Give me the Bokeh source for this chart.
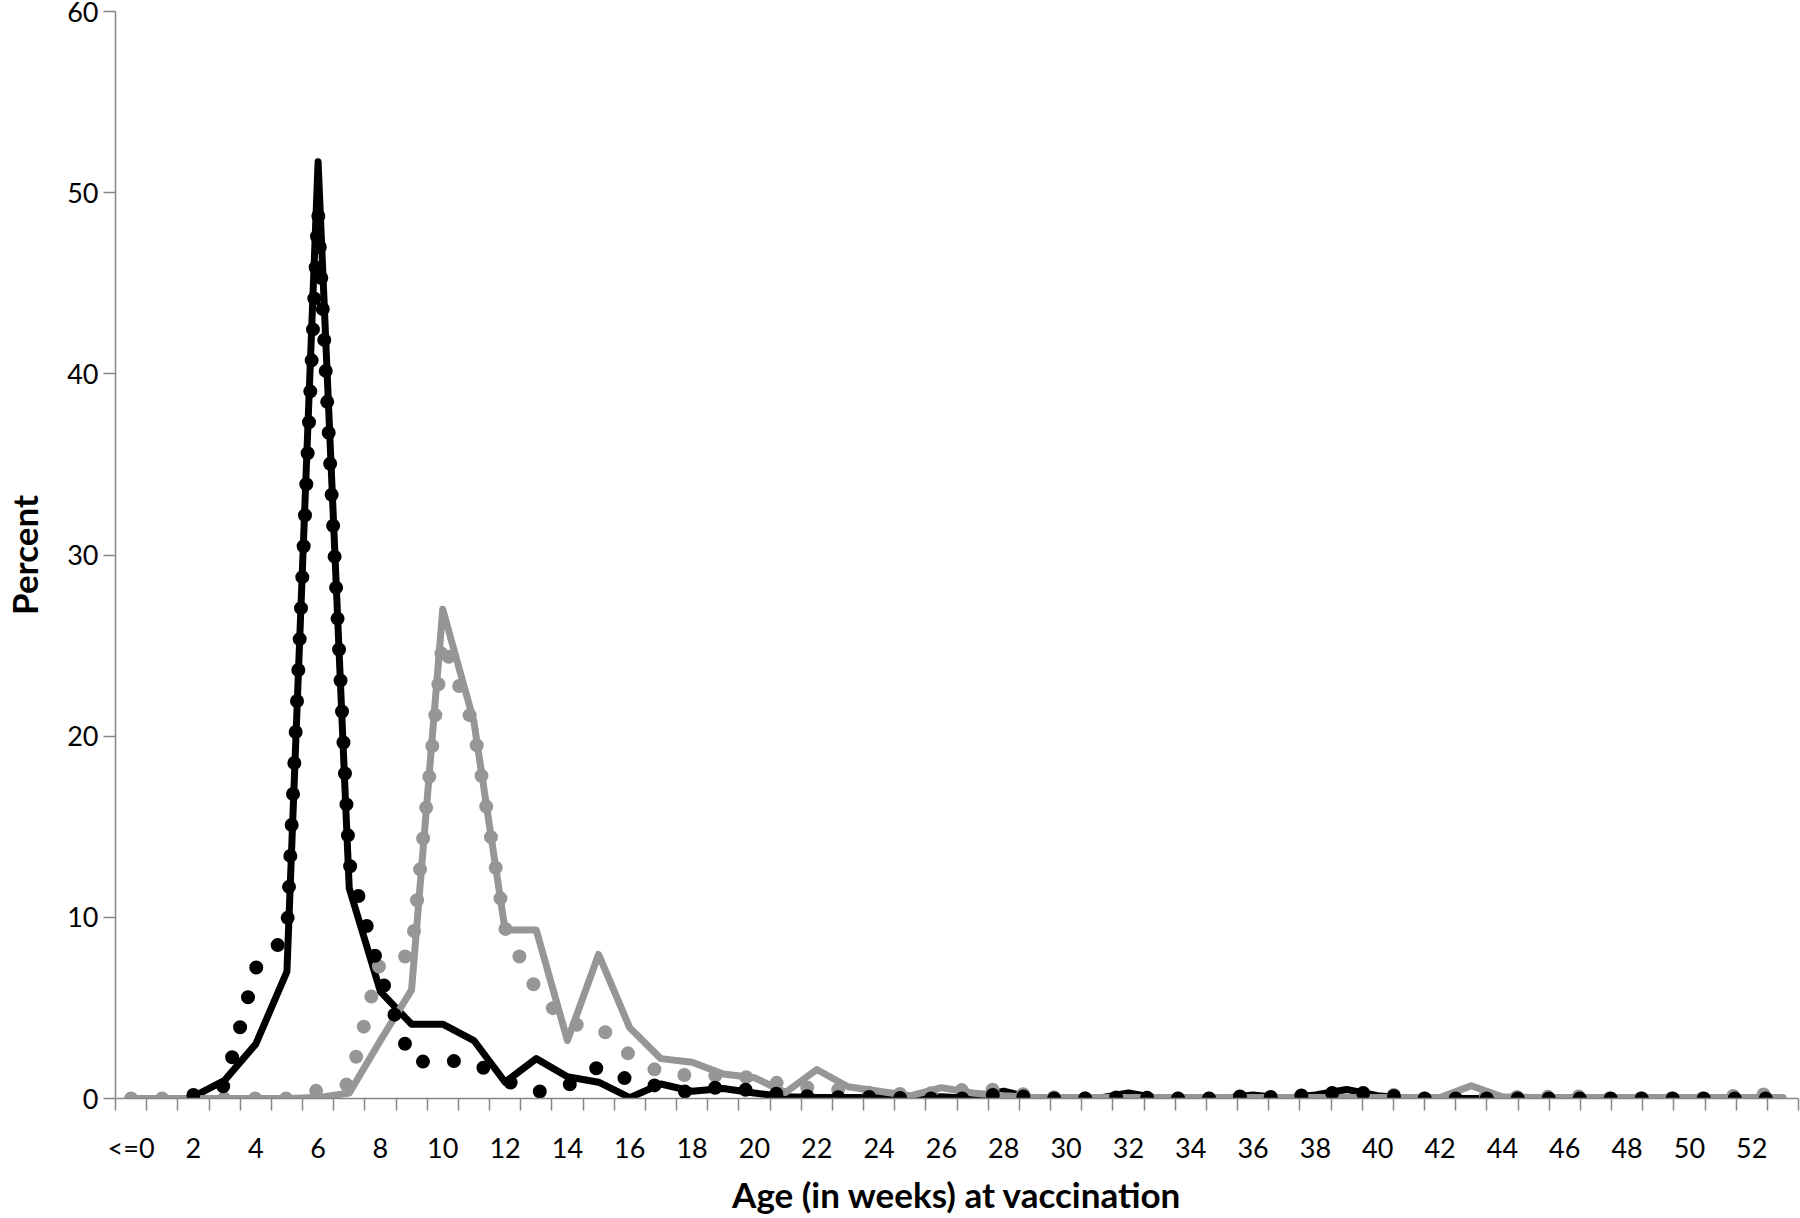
from bokeh.plotting import figure
from bokeh.models import FixedTicker, Range1d, ColumnDataSource
from bokeh.embed import file_html
from bokeh.resources import INLINE

nan = float("nan")

# categories: index 0 = "<=0", then weeks 1..53
weeks = list(range(54))
week_labels = ["<=0"] + [str(i) for i in range(1, 54)]
tick_weeks = list(range(0, 53, 2))

black_solid = [nan, nan, 0.1, 1.0, 3.0, 7.0, 51.7, 11.6, 5.9, 4.1,
               4.1, 3.2, 0.9, 2.2, 1.2, 0.9, 0.05, 0.8, 0.4, 0.55,
               0.3, 0.1, 0.05, 0.05, 0.05, 0.0, 0.1, 0.0, 0.4, 0.0,
               0.0, 0.0, 0.3, 0.0, 0.0, 0.0, 0.2, 0.0, 0.2, 0.5,
               0.15, 0.0, 0.0, 0.0, 0.0, 0.0, 0.0, 0.0, 0.0, 0.0,
               0.0, 0.0, 0.0, 0.0]

black_dotted = [nan, nan, 0.2, 0.7, 7.2, 9.0, 49.0, 13.0, 6.8, 2.0,
                2.1, 2.0, 1.0, 0.35, 0.7, 1.75, 1.0, 0.65, 0.3, 0.7,
                0.4, 0.2, 0.1, 0.05, 0.1, 0.0, 0.0, 0.0, 0.3, 0.0,
                0.0, 0.0, 0.1, 0.0, 0.0, 0.0, 0.2, 0.0, 0.3, 0.3,
                0.3, 0.0, 0.0, 0.0, 0.0, 0.0, 0.0, 0.0, 0.0, 0.0,
                0.0, 0.0, 0.0, 0.0]

gray_solid = [0.0, 0.0, 0.0, 0.0, 0.0, 0.0, 0.05, 0.3, 3.2, 6.0,
              27.0, 20.8, 9.3, 9.3, 3.2, 7.95, 3.9, 2.2, 2.0, 1.35,
              1.15, 0.33, 1.6, 0.65, 0.4, 0.15, 0.6, 0.3, 0.15, 0.05,
              0.05, 0.05, 0.05, 0.05, 0.05, 0.05, 0.05, 0.05, 0.05, 0.05,
              0.05, 0.05, 0.05, 0.7, 0.1, 0.05, 0.05, 0.05, 0.05, 0.05,
              0.05, 0.05, 0.05, 0.05]

gray_dotted = [0.0, 0.0, 0.0, 0.0, 0.0, 0.0, 0.45, 0.8, 7.6, 7.9,
               25.3, 20.5, 9.4, 6.0, 4.1, 4.0, 2.4, 1.4, 1.26, 1.26,
               1.15, 0.75, 0.55, 0.45, 0.25, 0.25, 0.3, 0.55, 0.45, 0.1,
               0.05, 0.0, 0.0, 0.0, 0.0, 0.0, 0.0, 0.0, 0.0, 0.0,
               0.4, 0.0, 0.0, 0.2, 0.15, 0.0, 0.2, 0.0, 0.0, 0.0,
               0.0, 0.0, 0.35, 0.0]

y_ticks = [0, 10, 20, 30, 40, 50, 60]

src = ColumnDataSource(dict(week=weeks, bs=black_solid, bd=black_dotted,
                            gs=gray_solid, gd=gray_dotted))

BLACK = "#000000"
GRAY = "#969696"
AXIS = "#868686"
FONT = "Lato"

p = figure(width=1800, height=1218,
           x_range=Range1d(-0.5, 53.5), y_range=Range1d(0, 60),
           output_backend="svg", toolbar_location=None,
           min_border_left=115, min_border_right=2,
           min_border_top=11, min_border_bottom=120)
p.outline_line_color = None
p.xgrid.visible = False
p.ygrid.visible = False
p.background_fill_color = "white"
p.border_fill_color = "white"

# series (black solid under gray, black dotted on top)
p.line("week", "bs", source=src, line_color=BLACK, line_width=7,
       line_join="round", line_cap="round")
p.line("week", "gs", source=src, line_color=GRAY, line_width=7,
       line_join="round", line_cap="round")
p.line("week", "gd", source=src, line_color=GRAY, line_width=14,
       line_dash="0 31", line_cap="round", line_join="round")
p.line("week", "bd", source=src, line_color=BLACK, line_width=14,
       line_dash="0 31", line_cap="round", line_join="round")

# x axis
xax = p.xaxis[0]
xax.ticker = FixedTicker(ticks=tick_weeks,
                         minor_ticks=[k - 0.5 for k in range(55)])
xax.major_label_overrides = {w: week_labels[w] for w in tick_weeks}
xax.major_tick_line_color = None
xax.major_tick_out = 0
xax.major_tick_in = 0
xax.minor_tick_out = 12
xax.minor_tick_in = 0
xax.minor_tick_line_color = AXIS
xax.minor_tick_line_width = 1.5
xax.axis_line_color = AXIS
xax.axis_line_width = 1.5
xax.major_label_text_font = FONT
xax.major_label_text_font_size = "27px"
xax.major_label_text_color = "black"
xax.major_label_standoff = 20
xax.axis_label = "Age (in weeks) at vaccination"
xax.axis_label_text_font = FONT
xax.axis_label_text_font_style = "bold"
xax.axis_label_text_font_size = "35px"
xax.axis_label_text_color = "black"
xax.axis_label_standoff = 6

# y axis
yax = p.yaxis[0]
yax.ticker = FixedTicker(ticks=y_ticks)
yax.major_tick_out = 12
yax.major_tick_in = 0
yax.major_tick_line_color = AXIS
yax.major_tick_line_width = 1.5
yax.minor_tick_line_color = None
yax.axis_line_color = AXIS
yax.axis_line_width = 1.5
yax.major_label_text_font = FONT
yax.major_label_text_font_size = "27px"
yax.major_label_text_color = "black"
yax.major_label_standoff = 5
yax.axis_label = "Percent"
yax.axis_label_text_font = FONT
yax.axis_label_text_font_style = "bold"
yax.axis_label_text_font_size = "35px"
yax.axis_label_text_color = "black"
yax.axis_label_standoff = 19

open("out.html", "w").write(file_html(p, INLINE))
